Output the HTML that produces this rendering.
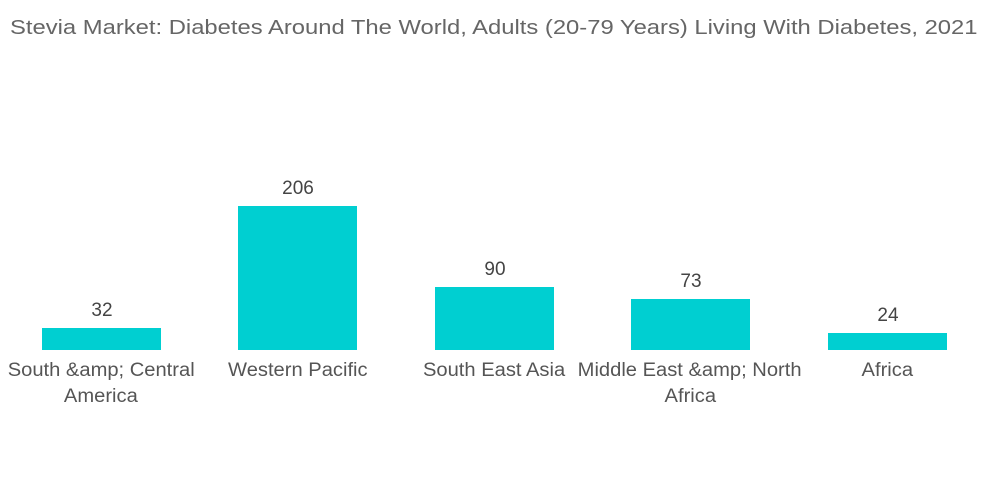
<!DOCTYPE html>
<html><head><style>
body{margin:0;width:1000px;height:504px;background:#fff;font-family:"Liberation Sans",sans-serif;overflow:hidden;position:relative}
.t{position:absolute;left:10px;top:17px;font-size:20px;color:#666;white-space:nowrap;transform-origin:0 0;transform:scaleX(1.19)}
.b{position:absolute;background:#00cfd1}
.v{position:absolute;font-size:19px;color:#444;text-align:center;width:120px}
.l{position:absolute;font-size:19px;color:#555;text-align:center;width:236px;line-height:26px;white-space:nowrap}
.l span{display:inline-block;transform:scaleX(1.06)}
</style></head><body>
<div class="t">Stevia Market: Diabetes Around The World, Adults (20-79 Years) Living With Diabetes, 2021</div>
<div class="b" style="left:42px;top:328px;width:119px;height:22px"></div>
<div class="b" style="left:238px;top:206px;width:119px;height:144px"></div>
<div class="b" style="left:435px;top:287px;width:119px;height:63px"></div>
<div class="b" style="left:631px;top:299px;width:119px;height:51px"></div>
<div class="b" style="left:828px;top:333px;width:119px;height:17px"></div>
<div class="v" style="left:42px;top:300px">32</div>
<div class="v" style="left:238px;top:178px">206</div>
<div class="v" style="left:435px;top:259px">90</div>
<div class="v" style="left:631px;top:271px">73</div>
<div class="v" style="left:828px;top:305px">24</div>
<div class="l" style="left:-17px;top:358px"><span>South &amp;amp; Central</span><br><span>America</span></div>
<div class="l" style="left:180px;top:358px"><span>Western Pacific</span></div>
<div class="l" style="left:376px;top:358px"><span>South East Asia</span></div>
<div class="l" style="left:572px;top:358px"><span>Middle East &amp;amp; North</span><br><span>Africa</span></div>
<div class="l" style="left:769px;top:358px"><span>Africa</span></div>
</body></html>
